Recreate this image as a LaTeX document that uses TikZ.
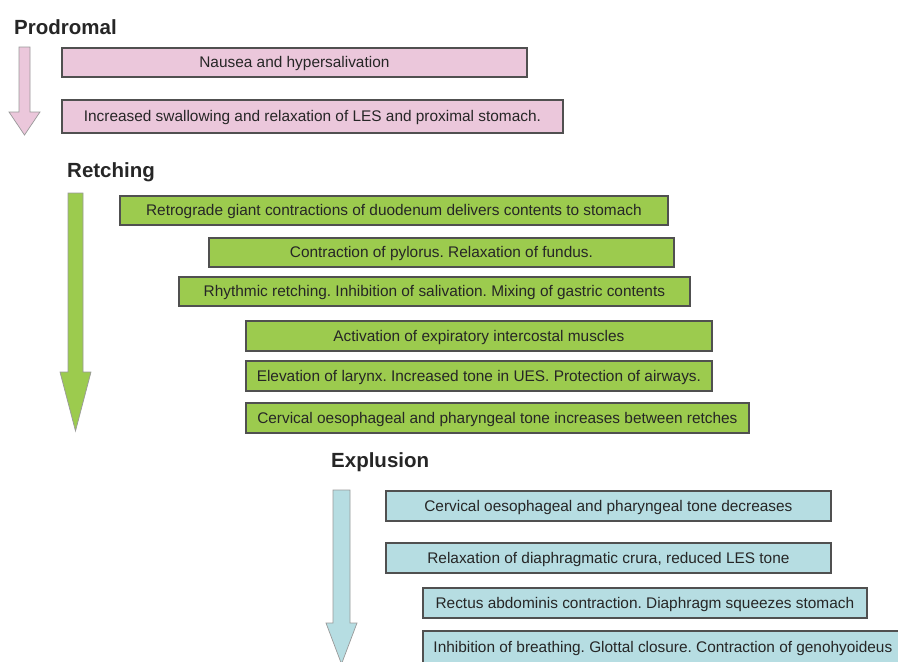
\documentclass[tikz,border=0pt]{standalone}
\usepackage{fontspec}
\setmainfont{Liberation Sans}
\usepackage{tikz}
\frenchspacing

\definecolor{prodpink}{HTML}{EBC7DB}
\definecolor{retchgreen}{HTML}{9CCB4E}
\definecolor{explblue}{HTML}{B6DDE2}
\definecolor{boxline}{HTML}{505050}

\tikzset{
  phase/.style={anchor=base west, inner sep=0pt, text=black!85,
    font=\fontsize{20.5}{24}\selectfont\bfseries},
  stagebox/.style={anchor=north west, draw=boxline, line width=1.8pt,
    inner sep=0pt, text height=11pt, text depth=0pt, text=black!85,
    font=\fontsize{15.4}{18}\selectfont},
  pinkbox/.style={stagebox, fill=prodpink},
  greenbox/.style={stagebox, fill=retchgreen},
  bluebox/.style={stagebox, fill=explblue},
  phasearrow/.style={draw=black!40, line width=0.7pt}
}

\begin{document}
\begin{tikzpicture}[x=1pt, y=-1pt]

        \useasboundingbox (0,0) rectangle (898,662);

        % Prodromal
        \node[phase] (prodromal) at (14,34) {Prodromal};
        \filldraw[phasearrow, fill=prodpink] (19,47) -- (30,47) -- (30,112) -- (40,112)
            -- (24.5,135) -- (9,112) -- (19,112) -- cycle;

        \node[pinkbox, minimum width=465pt, minimum height=29pt] (nausea) at (61,47)
            {Nausea and hypersalivation};
        \node[pinkbox, minimum width=501pt, minimum height=33pt] (swallow) at (61,99)
            {Increased swallowing and relaxation of LES and proximal stomach.};

        % Retching
        \node[phase] (retching) at (67,177) {Retching};
        \filldraw[phasearrow, fill=retchgreen] (68,193) -- (83,193) -- (83,372) -- (91,372)
            -- (75.5,431) -- (60,372) -- (68,372) -- cycle;

        \node[greenbox, minimum width=548pt, minimum height=29pt] (retro) at (119,195)
            {Retrograde giant contractions of duodenum delivers contents to stomach};
        \node[greenbox, minimum width=465pt, minimum height=29pt] (pylorus) at (208,237)
            {Contraction of pylorus. Relaxation of fundus.};
        \node[greenbox, minimum width=511pt, minimum height=29pt] (rhythm) at (178,276)
            {Rhythmic retching. Inhibition of salivation. Mixing of gastric contents};
        \node[greenbox, minimum width=466pt, minimum height=30pt] (intercostal) at (245,320)
            {Activation of expiratory intercostal muscles};
        \node[greenbox, minimum width=466pt, minimum height=30pt] (larynx) at (245,360)
            {Elevation of larynx. Increased tone in UES. Protection of airways.};
        \node[greenbox, minimum width=503pt, minimum height=30pt] (tonerise) at (245,402)
            {Cervical oesophageal and pharyngeal tone increases between retches};

        % Explusion
        \node[phase] (explusion) at (331,467) {Explusion};
        \filldraw[phasearrow, fill=explblue] (333,490) -- (350,490) -- (350,623) -- (357,623)
            -- (341.5,664) -- (326,623) -- (333,623) -- cycle;

        \node[bluebox, minimum width=445pt, minimum height=30pt] (tonedrop) at (385,490)
            {Cervical oesophageal and pharyngeal tone decreases};
        \node[bluebox, minimum width=445pt, minimum height=30pt] (crura) at (385,542)
            {Relaxation of diaphragmatic crura, reduced LES tone};
        \node[bluebox, minimum width=444pt, minimum height=30pt] (rectus) at (422,587)
            {Rectus abdominis contraction. Diaphragm squeezes stomach};
        \node[bluebox, minimum width=480pt, minimum height=32pt] (glottal) at (422,630)
            {Inhibition of breathing. Glottal closure. Contraction of genohyoideus};

    \end{tikzpicture}
\end{document}
